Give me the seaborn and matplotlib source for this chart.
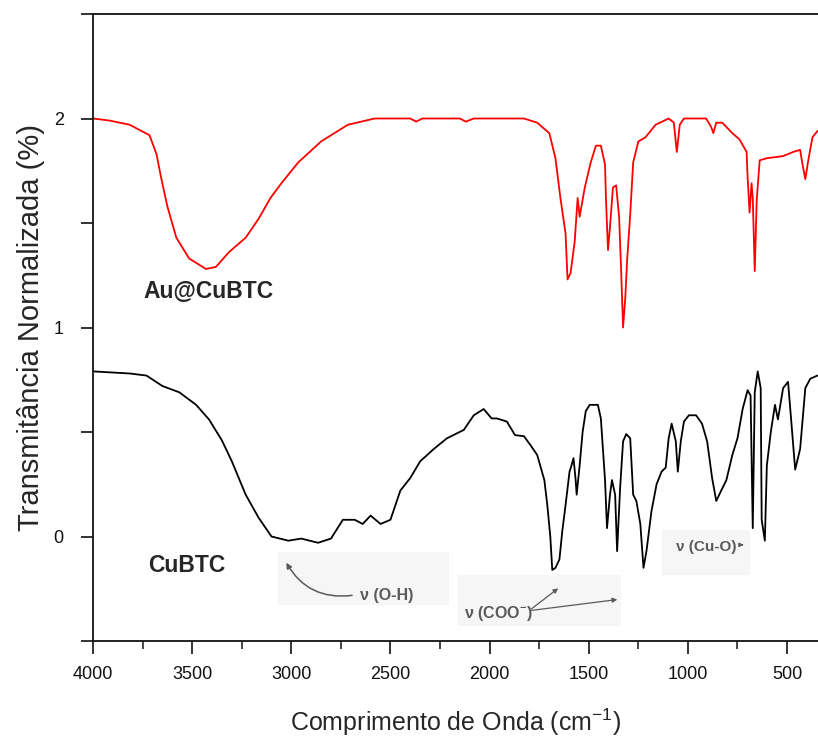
import matplotlib
matplotlib.use("Agg")
import matplotlib.pyplot as plt
import pandas as pd
import seaborn as sns
from matplotlib.ticker import MultipleLocator
from matplotlib.patches import Rectangle

# FTIR spectra: wavenumber (cm^-1) and normalised transmittance (offset)
au_wn = [4000, 3915, 3815, 3715, 3680, 3655, 3625, 3580, 3515, 3430,
         3380, 3315, 3230, 3165, 3105, 3050, 2965, 2850, 2715, 2580,
         2400, 2370, 2340, 2150, 2120, 2080, 1964, 1827, 1760, 1699,
         1668, 1643, 1617, 1607, 1592, 1571, 1556, 1546, 1520, 1490,
         1464, 1439, 1418, 1413, 1403, 1393, 1378, 1362, 1347, 1337,
         1327, 1316, 1306, 1291, 1276, 1250, 1214, 1163, 1097, 1071,
         1056, 1041, 1020, 908, 883, 872, 857, 827, 776, 740,
         704, 699, 689, 679, 673, 663, 653, 638, 602, 520,
         469, 434, 424, 408, 393, 372, 347]
au_t = [2.00, 1.99, 1.97, 1.92, 1.83, 1.71, 1.58, 1.43, 1.33, 1.28,
        1.29, 1.36, 1.43, 1.52, 1.62, 1.69, 1.79, 1.89, 1.97, 2.00,
        2.00, 1.985, 2.00, 2.00, 1.985, 2.00, 2.00, 2.00, 1.98, 1.93,
        1.81, 1.62, 1.45, 1.23, 1.26, 1.41, 1.62, 1.53, 1.67, 1.79,
        1.87, 1.87, 1.78, 1.61, 1.37, 1.48, 1.67, 1.68, 1.53, 1.28,
        1.00, 1.14, 1.33, 1.54, 1.79, 1.89, 1.91, 1.97, 2.00, 1.98,
        1.84, 1.97, 2.00, 2.00, 1.96, 1.93, 1.98, 1.98, 1.93, 1.90,
        1.84, 1.72, 1.55, 1.69, 1.62, 1.27, 1.61, 1.80, 1.81, 1.82,
        1.84, 1.85, 1.79, 1.71, 1.80, 1.91, 1.94]

cu_wn = [4000, 3815, 3730, 3650, 3565, 3480, 3415, 3350, 3300, 3230,
         3165, 3100, 3015, 2950, 2865, 2800, 2740, 2680, 2640, 2600,
         2550, 2500, 2450, 2400, 2350, 2280, 2215, 2130, 2080, 2030,
         1990, 1964, 1913, 1872, 1827, 1796, 1760, 1745, 1724, 1709,
         1694, 1684, 1668, 1648, 1633, 1617, 1597, 1587, 1577, 1566,
         1561, 1546, 1531, 1515, 1495, 1454, 1439, 1418, 1408, 1393,
         1383, 1367, 1357, 1342, 1327, 1311, 1291, 1276, 1260, 1240,
         1224, 1209, 1184, 1158, 1133, 1112, 1097, 1082, 1061, 1051,
         1036, 1020, 995, 959, 929, 903, 878, 857, 832, 806,
         776, 750, 724, 699, 684, 673, 663, 648, 633, 628,
         612, 602, 582, 561, 546, 520, 495, 459, 434, 408,
         383, 347]
cu_t = [0.79, 0.78, 0.77, 0.72, 0.69, 0.63, 0.56, 0.46, 0.36, 0.20,
        0.09, 0.00, -0.02, -0.01, -0.03, -0.01, 0.08, 0.08, 0.06, 0.10,
        0.06, 0.08, 0.22, 0.28, 0.36, 0.42, 0.47, 0.51, 0.58, 0.61,
        0.565, 0.565, 0.55, 0.485, 0.48, 0.44, 0.39, 0.34, 0.27, 0.15,
        0.00, -0.16, -0.15, -0.11, 0.03, 0.15, 0.31, 0.34, 0.375, 0.27,
        0.20, 0.34, 0.50, 0.60, 0.63, 0.63, 0.565, 0.27, 0.04, 0.20,
        0.27, 0.20, -0.07, 0.23, 0.455, 0.49, 0.47, 0.20, 0.17, 0.06,
        -0.15, -0.07, 0.12, 0.25, 0.31, 0.33, 0.47, 0.54, 0.455, 0.31,
        0.455, 0.55, 0.58, 0.58, 0.54, 0.455, 0.28, 0.17, 0.22, 0.27,
        0.39, 0.47, 0.61, 0.70, 0.675, 0.04, 0.69, 0.79, 0.71, 0.08,
        -0.02, 0.34, 0.50, 0.63, 0.56, 0.71, 0.74, 0.32, 0.42, 0.71,
        0.755, 0.77]

samples = ["Au@CuBTC", "CuBTC"]
colors = {"Au@CuBTC": "#ff0000", "CuBTC": "#000000"}

y_ticks = [-0.5, 0, 0.5, 1, 1.5, 2, 2.5]
y_tick_labels = ["", "0", "", "1", "", "2", ""]

df = pd.concat([
    pd.DataFrame({"wn": au_wn, "T": au_t, "amostra": samples[0]}),
    pd.DataFrame({"wn": cu_wn, "T": cu_t, "amostra": samples[1]}),
], ignore_index=True)

sns.set_style("ticks")
plt.rcParams["font.family"] = ["Liberation Sans", "DejaVu Sans"]
plt.rcParams["mathtext.default"] = "regular"

fig = plt.figure(figsize=(8.18, 7.37), dpi=100)
ax = fig.add_axes([93 / 818, 1 - 641 / 737, 1 - 93 / 818, (641 - 14) / 737])

sns.lineplot(data=df, x="wn", y="T", hue="amostra", palette=colors,
             estimator=None, sort=False, linewidth=1.3, legend=False, ax=ax)

ax.set_xlim(4000, 344)
ax.set_ylim(-0.5, 2.5)

ax.xaxis.set_major_locator(MultipleLocator(500))
ax.xaxis.set_minor_locator(MultipleLocator(250))
ax.set_yticks(y_ticks)
ax.set_yticklabels(y_tick_labels)

ax.tick_params(axis="both", which="major", direction="out", length=9,
               width=1.2, labelsize=13, colors="#111111", pad=9)
ax.tick_params(axis="x", which="minor", direction="out", length=6, width=1.2)
ax.tick_params(axis="y", pad=12)

for side in ["left", "top", "bottom"]:
    ax.spines[side].set_linewidth(1.3)
    ax.spines[side].set_color("#111111")
ax.spines["right"].set_visible(False)

ax.set_xlabel(r"Comprimento de Onda (cm$^{-1}$)", fontsize=18, labelpad=17)
ax.set_ylabel("Transmitância Normalizada (%)", fontsize=21, labelpad=6)

# sample labels
ax.text(3420, 1.17, "Au@CuBTC", fontsize=16.5, fontweight="bold",
        ha="center", va="center")
ax.text(3525, -0.14, "CuBTC", fontsize=16.5, fontweight="bold",
        ha="center", va="center")

# band assignment notes
note_color = "#5a5a5a"
for (x0, x1, y0, y1) in [(3065, 2205, -0.33, -0.076),
                         (2158, 1337, -0.43, -0.185),
                         (1133, 689, -0.185, 0.03)]:
    ax.add_patch(Rectangle((x1, y0), x0 - x1, y1 - y0, facecolor="#f6f6f6",
                           edgecolor="none", zorder=0.5))

ax.text(2655, -0.28, "ν (O-H)", fontsize=11.5, fontweight="bold",
        color=note_color, ha="left", va="center")
ax.annotate("", xy=(3032, -0.114), xytext=(2680, -0.28),
            arrowprops=dict(arrowstyle="-|>", color=note_color, lw=1.1,
                            mutation_scale=8,
                            connectionstyle="arc3,rad=-0.35"))

ax.text(2128, -0.37, r"ν (COO$^{-}$)", fontsize=11.5, fontweight="bold",
        color=note_color, ha="left", va="center")
ax.annotate("", xy=(1643, -0.24), xytext=(1801, -0.355),
            arrowprops=dict(arrowstyle="-|>", color=note_color, lw=0.9,
                            mutation_scale=7))
ax.annotate("", xy=(1342, -0.30), xytext=(1801, -0.355),
            arrowprops=dict(arrowstyle="-|>", color=note_color, lw=0.9,
                            mutation_scale=7))

ax.text(1061, -0.05, "ν (Cu-O)", fontsize=11, fontweight="bold",
        color=note_color, ha="left", va="center")
ax.annotate("", xy=(705, -0.04), xytext=(740, -0.04),
            arrowprops=dict(arrowstyle="-|>", color=note_color, lw=0.9,
                            mutation_scale=6))

fig.savefig("out.png", dpi=100)
